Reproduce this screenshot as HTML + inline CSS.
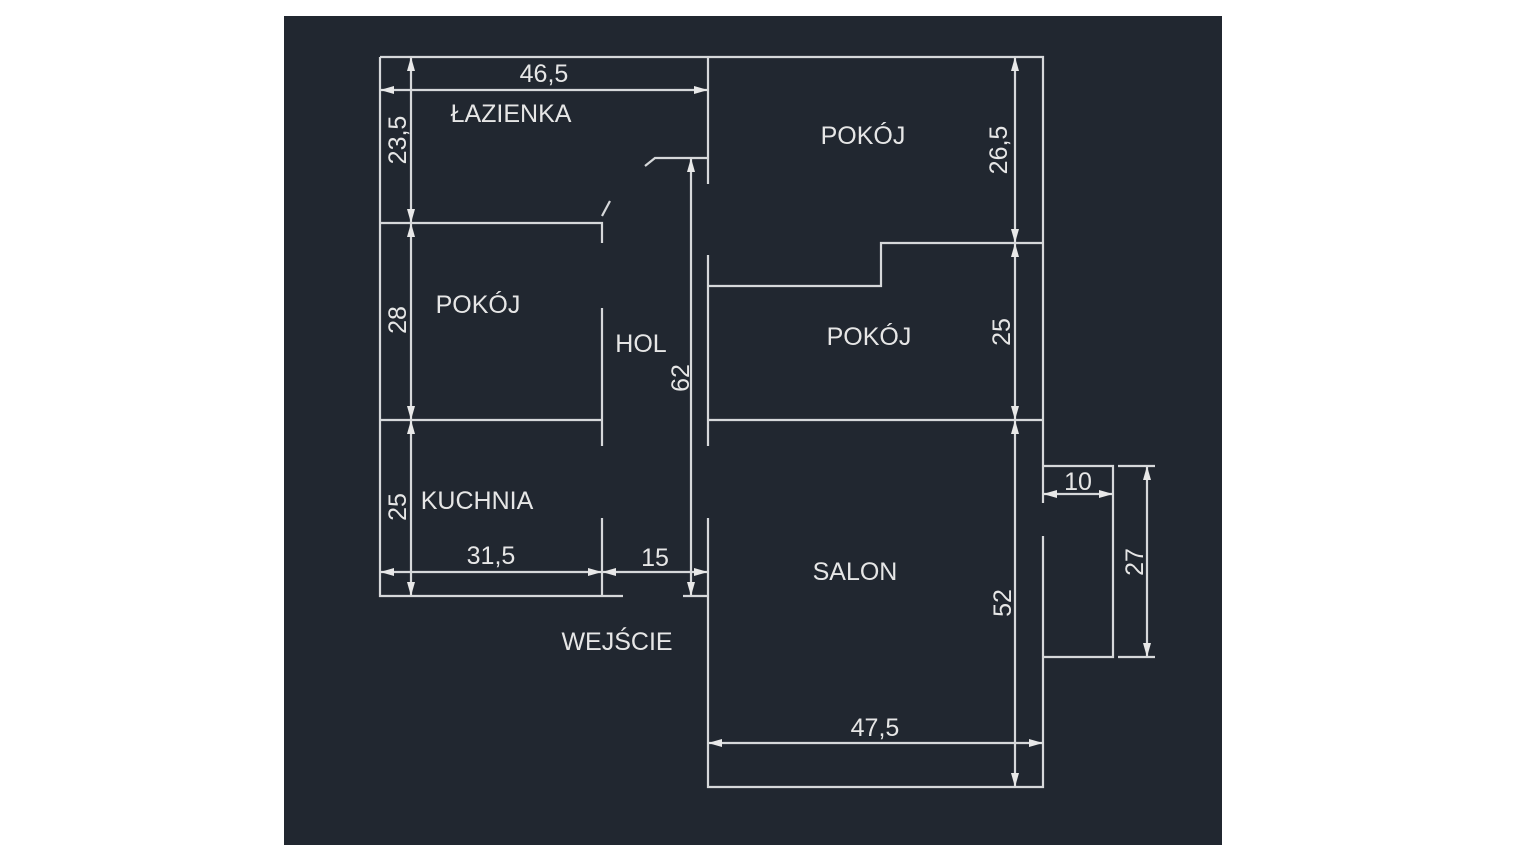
<!DOCTYPE html>
<html><head><meta charset="utf-8"><style>
html,body{margin:0;padding:0;background:#fff;width:1536px;height:864px;overflow:hidden}
svg{position:absolute;left:0;top:0}
text{font-family:"Liberation Sans",sans-serif;font-size:25px;fill:#e6e6e6}
</style></head><body>
<svg width="1536" height="864" viewBox="0 0 1536 864">
<defs>
<marker id="a" viewBox="0 0 14 8" refX="14" refY="4" markerWidth="14" markerHeight="8" markerUnits="userSpaceOnUse" orient="auto-start-reverse"><path d="M0,0 L14,4 L0,8 Z" fill="#e8e8e8"/></marker>
</defs>
<rect x="284" y="16" width="938" height="829" fill="#212730"/>
<g stroke="#d6d8da" stroke-width="2.2" fill="none">
<path d="M380,57 H1043 V503 M1043,536 V787 H708 V518 M708,446 V255 M708,184 V57"/>
<path d="M380,57 V596 H623 M683,596 H708"/>
<path d="M380,223 H602 V243 M602,216 L610,201"/>
<path d="M602,308 V446 M602,518 V596"/>
<path d="M380,420 H602 M708,420 H1043"/>
<path d="M645,166 L655,158 H708"/>
<path d="M708,286 H881 V243 H1043"/>
<path d="M1043,466 H1113 V657 H1043"/>
<path d="M1118,466 H1155 M1118,657 H1155"/>
</g>
<g stroke="#d6d8da" stroke-width="2.2" fill="none" marker-start="url(#a)" marker-end="url(#a)">
<line x1="380" y1="90" x2="708" y2="90"/>
<line x1="411" y1="57" x2="411" y2="223"/>
<line x1="411" y1="223" x2="411" y2="420"/>
<line x1="411" y1="420" x2="411" y2="596"/>
<line x1="380" y1="572" x2="602" y2="572"/>
<line x1="602" y1="572" x2="708" y2="572"/>
<line x1="691" y1="158" x2="691" y2="596"/>
<line x1="1015" y1="57" x2="1015" y2="243"/>
<line x1="1015" y1="243" x2="1015" y2="420"/>
<line x1="1015" y1="420" x2="1015" y2="787"/>
<line x1="708" y1="743" x2="1043" y2="743"/>
<line x1="1043" y1="494" x2="1113" y2="494"/>
<line x1="1147" y1="466" x2="1147" y2="657"/>
</g>
<g text-anchor="middle">
<text x="544" y="82">46,5</text>
<text x="511" y="122">ŁAZIENKA</text>
<text x="863" y="144">POKÓJ</text>
<text x="478" y="313">POKÓJ</text>
<text x="641" y="352">HOL</text>
<text x="869" y="345">POKÓJ</text>
<text x="477" y="509">KUCHNIA</text>
<text x="491" y="564">31,5</text>
<text x="655" y="566">15</text>
<text x="855" y="580">SALON</text>
<text x="617" y="650">WEJŚCIE</text>
<text x="875" y="736">47,5</text>
<text x="1078" y="490">10</text>
<text transform="translate(406,140) rotate(-90)">23,5</text>
<text transform="translate(406,320) rotate(-90)">28</text>
<text transform="translate(406,507) rotate(-90)">25</text>
<text transform="translate(689,378) rotate(-90)">62</text>
<text transform="translate(1007,150) rotate(-90)">26,5</text>
<text transform="translate(1010,332) rotate(-90)">25</text>
<text transform="translate(1011,603) rotate(-90)">52</text>
<text transform="translate(1143,562) rotate(-90)">27</text>
</g>
</svg>
</body></html>
